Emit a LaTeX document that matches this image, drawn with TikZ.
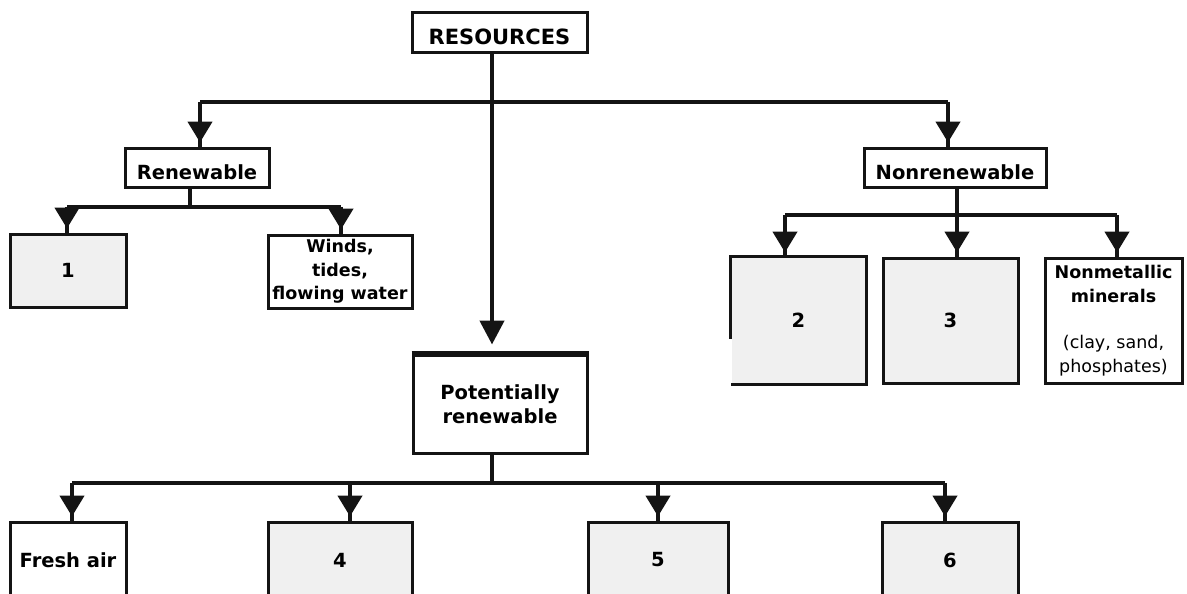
\documentclass[tikz,border=0pt]{standalone}
\usepackage{fontspec}
\setmainfont{DejaVu Sans}
\usetikzlibrary{arrows.meta}
\definecolor{ink}{HTML}{141414}
\definecolor{shade}{HTML}{F0F0F0}
\begin{document}
\begin{tikzpicture}[x=1pt,y=-1pt,
  txt/.style={font=\fontsize{19.5}{24}\selectfont\bfseries, align=center, inner sep=0pt},
  small/.style={font=\fontsize{17.5}{23.5}\selectfont\bfseries},
  box/.style={txt, draw=ink, line width=3pt, fill=white},
  greybox/.style={box, fill=shade},
  header/.style={box, text height=23pt, text depth=0pt},
  wire/.style={draw=ink, line width=4.5pt},
  arr/.style={wire, -{Triangle[width=24pt,length=21pt]}, shorten >=4pt,
              postaction={draw=ink, line width=4.5pt, -, shorten >=0pt}}
]
\useasboundingbox (0,0) rectangle (1187,594);
\fill[white] (0,0) rectangle (1187,594);

% top level
\node[header, font=\fontsize{21}{24}\selectfont\bfseries, minimum width=175pt, minimum height=40pt] (res) at (499.5,33) {RESOURCES};
\node[header, minimum width=144pt, minimum height=39pt] (ren) at (197,167.5) {Renewable};
\node[header, minimum width=182pt, minimum height=39pt] (nonren) at (955,167.5) {Nonrenewable};

% renewable branch
\node[greybox, minimum width=116pt, minimum height=73pt] (b1) at (68,270.5) {1};
\node[box, small, minimum width=144pt, minimum height=73pt] (winds) at (340,271.5) {Winds,\\tides,\\flowing water};

% nonrenewable branch
\node[greybox, draw=none, minimum width=133pt, minimum height=125pt] (b2) at (798.5,320.5) {2};
\draw[ink, line width=3pt] ([yshift=-82pt]b2.north west) -- (b2.north west) -- (b2.north east)
  -- (b2.south east) -- (b2.south west);
\node[greybox, minimum width=135pt, minimum height=125pt] (b3) at (950.5,320.5) {3};
\node[box, small, minimum width=137pt, minimum height=125pt] (nonmet) at (1113.5,320.5)
  {Nonmetallic\\minerals\\[23pt]{\mdseries (clay, sand,}\\{\mdseries phosphates)}};

% potentially renewable branch
\node[box, minimum width=174pt, minimum height=98pt] (pot) at (500,404) {Potentially\\renewable};
\draw[ink, line width=4.5pt] (pot.north west) -- (pot.north east);
\node[box, minimum width=116pt, minimum height=76pt] (fresh) at (68,560) {Fresh air};
\node[greybox, minimum width=144pt, minimum height=76pt] (b4) at (340,560) {4};
\node[greybox, minimum width=140pt, minimum height=76pt] (b5) at (658,560) {5};
\node[greybox, minimum width=136pt, minimum height=76pt] (b6) at (950,560) {6};

% connectors from RESOURCES
\coordinate (top) at (492,102);
\draw[wire] ([xshift=3pt]ren.north |- top) -- ([xshift=-7pt]nonren.north |- top);
\draw[arr] ([xshift=3pt]ren.north |- top) -- ([xshift=3pt]ren.north);
\draw[arr] ([xshift=-7pt]nonren.north |- top) -- ([xshift=-7pt]nonren.north);
\draw[wire, -{Triangle[width=24pt,length=24pt]}] ([xshift=-7.5pt]res.south) -- ([xshift=-8pt,yshift=9pt]pot.north);

% connectors from Renewable
\coordinate (rj) at (190,207);
\draw[wire] ([xshift=-7pt]ren.south) -- (rj);
\draw[wire] ([xshift=-1pt]b1.north |- rj) -- ([xshift=1pt]winds.north |- rj);
\draw[arr] ([xshift=-1pt]b1.north |- rj) -- ([xshift=-1pt]b1.north);
\draw[arr] ([xshift=1pt]winds.north |- rj) -- ([xshift=1pt]winds.north);

% connectors from Nonrenewable
\coordinate (nj) at (957,215);
\draw[wire] ([xshift=2pt]nonren.south) -- (nj);
\draw[wire] ([xshift=-13.5pt]b2.north |- nj) -- ([xshift=3.5pt]nonmet.north |- nj);
\draw[arr] ([xshift=-13.5pt]b2.north |- nj) -- ([xshift=-13.5pt]b2.north);
\draw[arr] ([xshift=6.5pt]b3.north |- nj) -- ([xshift=6.5pt]b3.north);
\draw[arr] ([xshift=3.5pt]nonmet.north |- nj) -- ([xshift=3.5pt]nonmet.north);

% connectors from Potentially renewable
\coordinate (pj) at (492,483);
\draw[wire] ([xshift=-8pt]pot.south) -- (pj);
\draw[wire] ([xshift=4pt]fresh.north |- pj) -- ([xshift=-5pt]b6.north |- pj);
\draw[arr] ([xshift=4pt]fresh.north |- pj) -- ([xshift=4pt]fresh.north);
\draw[arr] ([xshift=10pt]b4.north |- pj) -- ([xshift=10pt]b4.north);
\draw[arr] (b5.north |- pj) -- (b5.north);
\draw[arr] ([xshift=-5pt]b6.north |- pj) -- ([xshift=-5pt]b6.north);
\end{tikzpicture}
\end{document}
